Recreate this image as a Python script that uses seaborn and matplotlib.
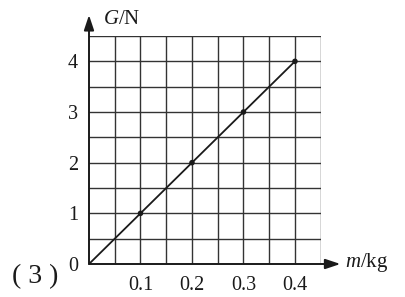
import matplotlib
matplotlib.use("Agg")
import matplotlib.pyplot as plt
import seaborn as sns
import pandas as pd

mass = [0.0, 0.1, 0.2, 0.3, 0.4]
weight = [0.0, 1.0, 2.0, 3.0, 4.0]
dot_mass = [0.1, 0.2, 0.3, 0.4]
dot_weight = [1.0, 2.0, 3.0, 4.0]
xticks = [0.1, 0.2, 0.3, 0.4]
xticklabels = ["0.1", "0.2", "0.3", "0.4"]
yticks = [0, 1, 2, 3, 4]
yticklabels = ["0", "1", "2", "3", "4"]

sns.set_style("white")
plt.rcParams['font.family'] = ['Liberation Serif', 'DejaVu Serif']
plt.rcParams['mathtext.fontset'] = 'custom'
plt.rcParams['mathtext.it'] = 'Liberation Serif:italic'
plt.rcParams['mathtext.rm'] = 'Liberation Serif'

fig = plt.figure(figsize=(4.05, 2.97), dpi=100)
ax = fig.add_axes([89/405, 33/297, 231.7/405, 228/297])

line_df = pd.DataFrame({"m": mass, "G": weight})
dot_df = pd.DataFrame({"m": dot_mass, "G": dot_weight})

ax.set_xlim(0, 0.45)
ax.set_ylim(0, 4.5)
# grid
for gx in [i * 0.05 for i in range(1, 10)]:
    ax.axvline(gx, color="#333333", lw=1.0, zorder=1)
for gy in [i * 0.5 for i in range(1, 10)]:
    ax.axhline(gy, color="#333333", lw=1.0, zorder=1)

sns.lineplot(data=line_df, x="m", y="G", ax=ax, color="#1a1a1a", lw=1.3, zorder=3)
sns.scatterplot(data=dot_df, x="m", y="G", ax=ax, color="#1a1a1a", s=16, edgecolor="none", zorder=4)

for s in ["top", "right", "left", "bottom"]:
    ax.spines[s].set_visible(False)

# axes with arrows
ax.annotate("", xy=(1.085, 0), xytext=(0, 0), xycoords="axes fraction",
            arrowprops=dict(arrowstyle="-|>,head_length=0.9,head_width=0.3", color="#1a1a1a", lw=1.4,
                            mutation_scale=10, shrinkA=0, shrinkB=0), annotation_clip=False)
ax.annotate("", xy=(0, 1.092), xytext=(0, 0), xycoords="axes fraction",
            arrowprops=dict(arrowstyle="-|>,head_length=0.9,head_width=0.3", color="#1a1a1a", lw=1.4,
                            mutation_scale=10, shrinkA=0, shrinkB=0), annotation_clip=False)

ax.set_xticks(xticks)
ax.set_xticklabels(xticklabels, fontsize=14.5)
ax.set_yticks(yticks)
ax.set_yticklabels(yticklabels, fontsize=14.5)
ax.tick_params(axis="x", length=0, pad=9, colors="#1a1a1a")
ax.tick_params(axis="y", length=0, pad=8, colors="#1a1a1a")
ax.set_xlabel("")
ax.set_ylabel("")

fig.text(103/405, 1 - 20/297, r"$G$/N", fontsize=15, ha="left", va="center", color="#1a1a1a")
fig.text(345/405, 1 - 262/297, r"$m$/kg", fontsize=15, ha="left", va="center", color="#1a1a1a")
fig.text(12/405, 1 - 277/297, "( 3 )", fontsize=20, ha="left", va="center", color="#1a1a1a")

fig.savefig("out.png", dpi=100)
